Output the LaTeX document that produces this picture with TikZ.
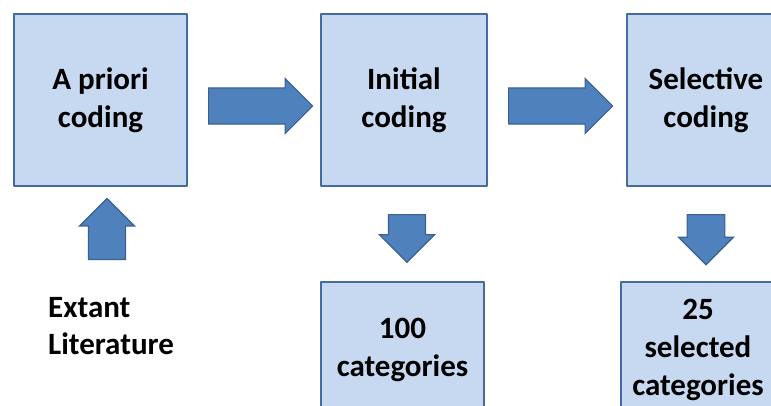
\documentclass[tikz,border=0pt]{standalone}
\usepackage{fontspec}
\setmainfont{Carlito}
\usepackage{tikz}
\usetikzlibrary{shapes.arrows}
\definecolor{boxfill}{RGB}{198,217,240}
\definecolor{boxline}{RGB}{70,108,158}
\definecolor{blockfill}{RGB}{79,129,189}
\definecolor{blockline}{RGB}{60,96,145}

\begin{document}
\begin{tikzpicture}[line cap=round,line join=round,x=1pt,y=-1pt,
    stage/.style={draw=boxline,fill=boxfill,line width=1.6pt,align=center,inner sep=0pt,
        font=\fontsize{31}{38}\selectfont\bfseries},
    block/.style={single arrow,draw=blockline,fill=blockfill,line width=1.2pt,
        anchor=tail,minimum width=55pt,line join=miter}]
            \useasboundingbox (0,0) rectangle (771,405);
            \clip (0,0) rectangle (771,405);
            \node[stage,minimum width=173pt,minimum height=172pt] (apriori) at (100.5,100) {A priori\\coding};
            \node[stage,minimum width=166pt,minimum height=172pt] (initial) at (404,100) {Initial\\coding};
            \node[stage,minimum width=158pt,minimum height=172pt] (selective) at (706,100) {Selective\\coding};
            \node[stage,minimum width=163pt,minimum height=136pt] (hundred) at (402.5,350) {100\\categories};
            \node[stage,minimum width=154pt,minimum height=136pt] (twentyfive) at (698,350) {25\\selected\\categories};
            \node[align=left,anchor=west,inner sep=0pt,font=\fontsize{31}{37.5}\selectfont\bfseries] (extant) at (48,326) {Extant\\Literature};
            \node[block,inner sep=13pt,minimum height=104pt] (aprioritoinitial) at (208,106) {};
            \node[block,inner sep=13pt,minimum height=104pt] (initialtoselective) at (508,106) {};
            \node[block,inner sep=14pt,minimum height=61pt,shape border rotate=90] (extanttoapriori) at (107,260) {};
            \node[block,inner sep=14pt,minimum height=47pt,shape border rotate=270] (initialtohundred) at (407,214) {};
            \node[block,inner sep=15pt,minimum height=47pt,shape border rotate=270] (selectivetotwentyfive) at (706,214) {};
\end{tikzpicture}
\end{document}
